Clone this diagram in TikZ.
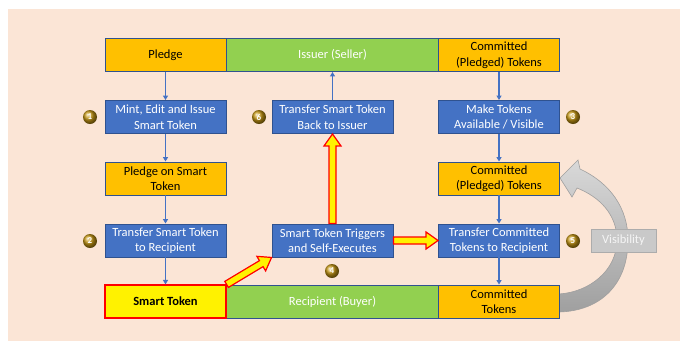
\documentclass[tikz,border=0pt]{standalone}
\usepackage{fontspec}
\setmainfont{Carlito}
\usetikzlibrary{calc,arrows.meta,shadings}
\definecolor{bgpeach}{RGB}{251,229,214}
\definecolor{bblue}{RGB}{68,114,196}
\definecolor{bord}{RGB}{47,82,143}
\definecolor{borange}{RGB}{255,192,0}
\definecolor{bgreen}{RGB}{146,208,80}
\definecolor{goldball}{RGB}{196,150,20}
\newcommand\bigarr[2]{%
  \coordinate (hA) at (#1); \coordinate (hB) at (#2);
  \coordinate (hH) at ($(hB)!12pt!(hA)$);
  \draw[red, line width=1.2pt, fill=yellow, line join=miter]
    ($(hA)!3.5pt!90:(hB)$) -- ($(hH)!3.5pt!90:(hB)$) -- ($(hH)!8.5pt!90:(hB)$)
    -- (hB) -- ($(hH)!8.5pt!-90:(hB)$) -- ($(hH)!3.5pt!-90:(hB)$)
    -- ($(hA)!3.5pt!-90:(hB)$) -- cycle;}
\begin{document}
\begin{tikzpicture}[x=1pt,y=-1pt,
  box/.style={draw=bord, line width=0.9pt, minimum width=121pt, minimum height=33pt,
    align=center, inner sep=1pt, font=\fontsize{12.5}{15.5}\selectfont},
  bluebox/.style={box, fill=bblue, text=white},
  orangebox/.style={box, fill=borange, text=black},
  greenbox/.style={box, fill=bgreen, text=white},
  numball/.style={circle, minimum size=14pt, inner sep=0pt, shading=ball, ball color=goldball,
    text=white, font=\bfseries\fontsize{9}{9}\selectfont},
  conn/.style={draw=bblue, line width=1.4pt, -{Triangle[length=4.5pt,width=5pt]}}]
\useasboundingbox (0,0) rectangle (680,341);
\fill[white] (0,0) rectangle (680,341);
\fill[bgpeach] (8,9) rectangle (680,341);
% gray curved arrow
\draw[gray!75, line width=0.6pt, top color=gray!30, bottom color=gray!75]
  (560,178) -- (578,160) -- (580,169)
  .. controls (610,183) and (628,208) .. (628,240)
  .. controls (628,285) and (600,311) .. (559,312)
  -- (559,294)
  .. controls (590,292) and (617,270) .. (617,240)
  .. controls (617,215) and (600,197) .. (577,188)
  -- (572,197) -- cycle;
% top row
\node[orangebox] (pledge) at (165.5,55) {Pledge};
\node[greenbox, minimum width=213pt] (issuer) at (332.5,55) {Issuer (Seller)};
\node[orangebox] (ctop) at (499,55) {Committed\\(Pledged) Tokens};
% row 2
\node[bluebox] (mint) at (165.5,117) {Mint, Edit and Issue\\Smart Token};
\node[bluebox] (back) at (332.5,117) {Transfer Smart Token\\Back to Issuer};
\node[bluebox] (make) at (499,117) {Make Tokens\\Available / Visible};
% row 3
\node[orangebox] (pledgeon) at (165.5,178.5) {Pledge on Smart\\Token};
\node[orangebox] (cpl) at (499,178.5) {Committed\\(Pledged) Tokens};
% row 4
\node[bluebox] (transfer) at (165.5,240.5) {Transfer Smart Token\\to Recipient};
\node[bluebox] (trig) at (332.5,240.5) {Smart Token Triggers\\and Self-Executes};
\node[bluebox] (tcomm) at (499,240.5) {Transfer Committed\\Tokens to Recipient};
% bottom row
\node[greenbox, minimum width=213pt] (recip) at (332.5,301.5) {Recipient (Buyer)};
\node[orangebox] (ctok) at (499,301.5) {Committed\\Tokens};
\node[box, fill=yellow, draw=red, line width=1.2pt] (smart) at (165.5,301.5) {\bfseries Smart Token};
% visibility
\node[draw=gray!65, line width=0.9pt, fill=gray!42, text=gray!8, minimum width=65pt,
  minimum height=23pt, inner sep=1pt, font=\fontsize{12.5}{15}\selectfont] (vis) at (623.5,240.5) {Visibility};
% number balls
\node[numball] (n1) at (90,117) {1};
\node[numball] (n6) at (259,117) {6};
\node[numball] (n3) at (573,117) {3};
\node[numball] (n2) at (90,241) {2};
\node[numball] (n4) at (332,271) {4};
\node[numball] (n5) at (573,241) {5};
% blue connectors
\draw[conn] (pledge) -- (mint);
\draw[conn] (mint) -- (pledgeon);
\draw[conn] (pledgeon) -- (transfer);
\draw[conn] (transfer) -- (smart);
\draw[conn] (ctop) -- (make);
\draw[conn] (make) -- (cpl);
\draw[conn] (cpl) -- (tcomm);
\draw[conn] (tcomm) -- (ctok);
\draw[conn] (back) -- (issuer);
% big arrows
\bigarr{smart.north east}{trig.south west}
\bigarr{trig.north}{back.south}
\bigarr{trig.east}{tcomm.west}
\end{tikzpicture}
\end{document}
